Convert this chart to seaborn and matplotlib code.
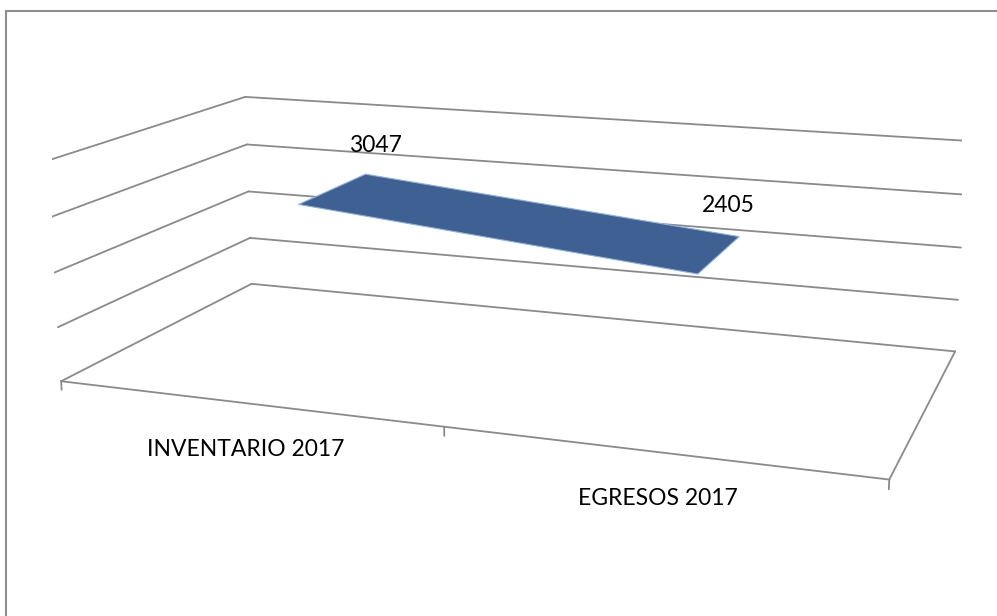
import numpy as np
import matplotlib
matplotlib.use("Agg")
import matplotlib.pyplot as plt
import seaborn as sns
from mpl_toolkits.mplot3d.art3d import Poly3DCollection
from matplotlib.patches import Rectangle

# ---- data ----
categories = ["INVENTARIO 2017", "EGRESOS 2017"]
values = [3047, 2405]
value_ticks = [0, 1000, 2000, 3000, 4000]

sns.set_theme(style="white")
plt.rcParams['font.family'] = ['Lato', 'DejaVu Sans']

W, H = 997, 616
fig = plt.figure(figsize=(W / 100, H / 100), dpi=100)
ax = fig.add_axes([0.0517, -0.1806, 0.9133, 1.4782], projection='3d')
n = len(categories)

# 3D view (perspective like the original spreadsheet chart)
ax.view_init(elev=13.9576, azim=-70.0423, roll=0.0268)
ax.set_proj_type('persp', focal_length=0.3986)
ax.set_box_aspect((1, 0.4952, 0.2719))
ax.set_axis_off()
ax.computed_zorder = False

grid_c = '#8A8A8A'
ribbon_front, ribbon_back = 0.3047, 0.7010

# wall gridlines (left side wall and back wall)
for z in value_ticks:
    ax.plot([0, 0], [0, 1], [z, z], color=grid_c, lw=1.3, zorder=1)
    ax.plot([0, n], [1, 1], [z, z], color=grid_c, lw=1.3, zorder=1)
# floor outline (front and right edges)
ax.plot([0, n], [0, 0], [0, 0], color=grid_c, lw=1.3, zorder=1)
ax.plot([n, n], [0, 1], [0, 0], color=grid_c, lw=1.3, zorder=1)
# category tick marks
tick_len = 0.04 * value_ticks[-1]
for t in range(n + 1):
    ax.plot([t, t], [0, 0], [0, -tick_len], color=grid_c, lw=1.3, zorder=1)

# 3D line ribbon
xs = np.arange(n) + 0.5
verts = []
for i in range(n - 1):
    verts.append([(xs[i], ribbon_front, values[i]), (xs[i + 1], ribbon_front, values[i + 1]),
                  (xs[i + 1], ribbon_back, values[i + 1]), (xs[i], ribbon_back, values[i])])
ax.add_collection3d(Poly3DCollection(verts, facecolor='#3F6093', edgecolor='#8EB0DC',
                                     lw=0.8, zorder=3))

ax.set_xlim(0, n)
ax.set_ylim(0, 1)
ax.set_zlim(value_ticks[0], value_ticks[-1])

fig.canvas.draw()


def project(x, y, z):
    M = ax.get_proj()
    P = np.array([x, y, z, 1.0]) @ M.T
    return P[0] / P[3], P[1] / P[3]


# data labels and category labels
lab_off = [(10, 28), (-10, 31)]
for i in range(n):
    ax.annotate(str(values[i]), xy=project(xs[i], ribbon_back, values[i]), xytext=lab_off[i],
                textcoords='offset pixels', ha='center', va='center', fontsize=16.5, color='black')
    ax.annotate(categories[i], xy=project(xs[i], 0, 0), xytext=(0, -46.5),
                textcoords='offset pixels', ha='center', va='center', fontsize=16.5, color='black')

# chart-area border
fig.patches.append(Rectangle((6 / W, -0.1), 2, (H - 11) / H + 0.1, transform=fig.transFigure,
                             fill=False, edgecolor='#8E8E8E', lw=1.5))
fig.savefig('out.png', dpi=100)
